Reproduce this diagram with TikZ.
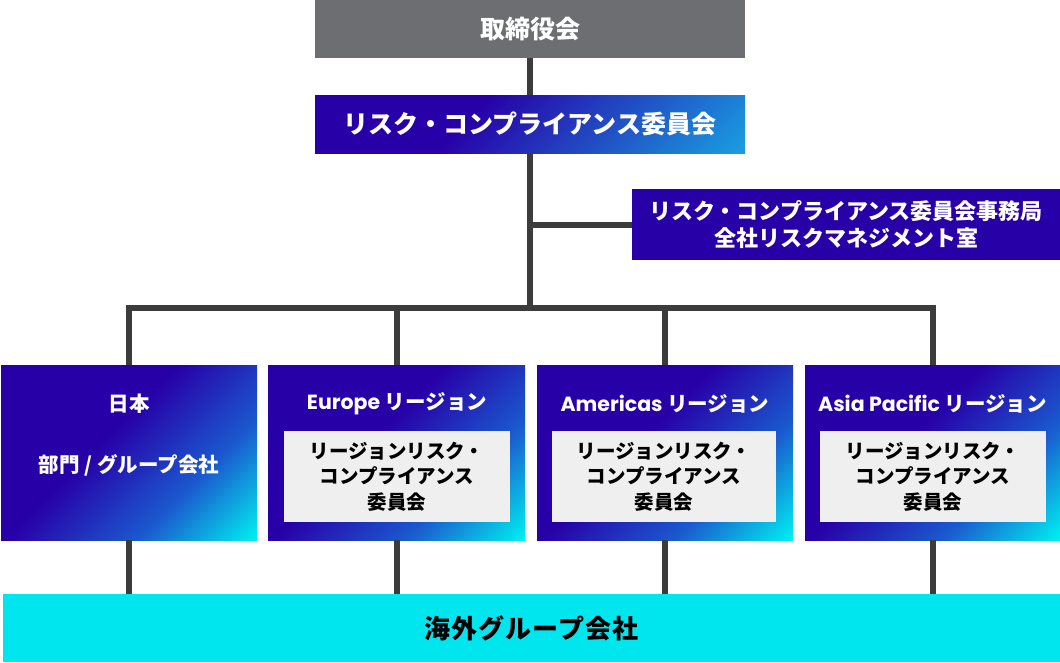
\documentclass[tikz,border=0pt]{standalone}
\usepackage{fontspec}
\setmainfont{Noto Sans CJK JP}
\newfontfamily\poppins{Poppins}
\newfontfamily\widecjk{Noto Sans CJK JP}[LetterSpace=4]
\definecolor{boardgray}{HTML}{6D6E71}
\definecolor{linegray}{HTML}{3C3C3C}
\definecolor{rgpurple}{HTML}{2800A8}
\definecolor{rgblue}{HTML}{1A5ACF}
\definecolor{rgcyan}{HTML}{00EEF0}
\definecolor{cmblue}{HTML}{1A9ADF}
\definecolor{innergray}{HTML}{EFEFEF}
\definecolor{overcyan}{HTML}{00E6EF}
\pgfdeclarehorizontalshading{regionshade}{100bp}{color(0bp)=(rgpurple); color(44bp)=(rgpurple); color(66bp)=(rgblue); color(85bp)=(rgcyan); color(100bp)=(rgcyan)}
\pgfdeclarehorizontalshading{committeeshade}{100bp}{color(0bp)=(rgpurple); color(40bp)=(rgpurple); color(84bp)=(cmblue); color(100bp)=(cmblue)}

\begin{document}
\begin{tikzpicture}[x=1pt,y=-1pt,
    box/.style={inner sep=0pt, align=center, text=white, font=\bfseries},
    region/.style={box, shading=regionshade, shading angle=-45, minimum height=175pt},
    inner/.style={box, fill=innergray, text=black, minimum height=91pt, font=\bfseries\fontsize{19.5}{25.5}\selectfont},
    head/.style={inner sep=0pt, text=white, font=\bfseries\fontsize{20.5}{24}\selectfont},
    link/.style={draw=linegray, line width=6pt}]
    \useasboundingbox (0,0) rectangle (1060,662);

    \node[box, fill=boardgray, minimum width=430pt, minimum height=58pt, font=\bfseries\fontsize{25}{30}\selectfont] (board) at (530,29) {取締役会};
    \node[box, shading=committeeshade, shading angle=-45, minimum width=430pt, minimum height=58pt, font=\bfseries\fontsize{25}{30}\selectfont] (rcc) at (530,124) {リスク・コンプライアンス委員会};
    \node[box, fill=rgpurple, minimum width=428pt, minimum height=71pt, font=\bfseries\fontsize{22}{27}\selectfont] (office) at (846,224.5) {リスク・コンプライアンス委員会事務局\\全社リスクマネジメント室};

    \node[region, minimum width=256pt] (japan) at (129,452.5) {};
    \node[region, minimum width=257pt] (europe) at (396.5,452.5) {};
    \node[region, minimum width=256pt] (americas) at (665,452.5) {};
    \node[region, minimum width=255pt] (asia) at (932.5,452.5) {};

    \node[head] (japanhead) at (129,404) {日本};
    \node[head] (japansub) at (129,465) {部門 / グループ会社};
    \node[head] (europehead) at (397,404) {{\poppins Europe} リージョン};
    \node[head] (americashead) at (665,404) {{\poppins Americas} リージョン};
    \node[head] (asiahead) at (932.5,404) {{\poppins Asia Pacific} リージョン};

    \node[inner, minimum width=226pt] (europercc) at (397,476.5) {リージョンリスク・\\コンプライアンス\\委員会};
    \node[inner, minimum width=224pt] (americasrcc) at (664,476.5) {リージョンリスク・\\コンプライアンス\\委員会};
    \node[inner, minimum width=226pt] (asiarcc) at (933,476.5) {リージョンリスク・\\コンプライアンス\\委員会};

    \node[box, fill=overcyan, text=black, minimum width=1057pt, minimum height=68pt, font=\bfseries\fontsize{26}{30}\selectfont] (overseas) at (531.5,628) {\widecjk\bfseries 海外グループ会社};

    \coordinate (bus) at (530,308);
    \draw[link] (board) -- (rcc);
    \draw[link] (rcc) -- (bus);
    \draw[link] (rcc.south |- office.west) -- (office.west);
    \draw[link, line join=miter] (japan.north) -- (japan.north |- bus) -- (asia.north |- bus) -- (asia.north);
    \draw[link] (europe.north |- bus) -- (europe.north);
    \draw[link] (americas.north |- bus) -- (americas.north);
    \foreach \r in {japan,europe,americas,asia}
        \draw[link] (\r.south) -- (\r.south |- overseas.north);
\end{tikzpicture}
\end{document}
